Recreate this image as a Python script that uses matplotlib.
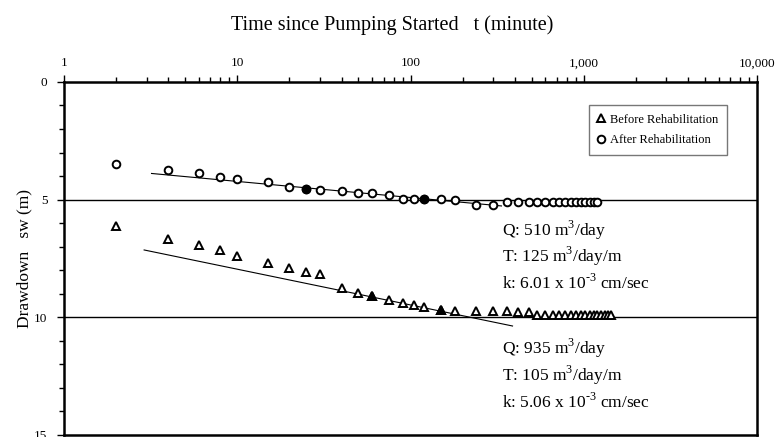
import matplotlib
matplotlib.use("Agg")
import matplotlib.pyplot as plt
from matplotlib.ticker import LogLocator, FuncFormatter, NullFormatter, MultipleLocator
from matplotlib.lines import Line2D

plt.rcParams["font.family"] = ["Liberation Serif", "DejaVu Serif"]
plt.rcParams["mathtext.fontset"] = "custom"
plt.rcParams["mathtext.rm"] = "Liberation Serif"

# time since pumping started (minute)
t_after = [2, 4, 6, 8, 10, 15, 20, 25, 30, 40, 50, 60, 75, 90, 105, 120, 150, 180,
           240, 300, 360, 420, 480, 540, 600, 660, 720, 780, 840, 900, 960, 1020,
           1080, 1140, 1200]
s_after = [3.5, 3.74, 3.88, 4.04, 4.13, 4.27, 4.46, 4.53, 4.59, 4.65, 4.7, 4.74, 4.8,
           4.97, 4.97, 4.97, 4.98, 5.02, 5.22, 5.22, 5.1, 5.1, 5.1, 5.1, 5.12, 5.12,
           5.12, 5.12, 5.1, 5.12, 5.12, 5.1, 5.1, 5.1, 5.1]

t_before = [2, 4, 6, 8, 10, 15, 20, 25, 30, 40, 50, 60, 75, 90, 105, 120, 150, 180,
            240, 300, 360, 420, 480, 540, 600, 660, 720, 780, 840, 900, 960, 1020,
            1080, 1140, 1200, 1260, 1320, 1380, 1440]
s_before = [6.12, 6.66, 6.92, 7.14, 7.38, 7.68, 7.9, 8.06, 8.16, 8.76, 8.95, 9.1, 9.26,
            9.38, 9.46, 9.55, 9.7, 9.72, 9.72, 9.74, 9.74, 9.76, 9.78, 9.9, 9.9, 9.92,
            9.92, 9.92, 9.92, 9.92, 9.92, 9.92, 9.92, 9.92, 9.92, 9.92, 9.92, 9.92, 9.92]

# points used for the straight-line fits (filled markers)
t_after_fit_pts = [25, 120]
t_before_fit_pts = [60, 150]

# fitted straight lines (end points)
t_after_line = [3.2, 335]
s_after_line = [3.89, 5.27]
t_before_line = [2.9, 388]
s_before_line = [7.14, 10.37]

after_txt = ["Q: 510 m$^3$/day", "T: 125 m$^3$/day/m", r"k: 6.01 x 10$^{\text{-3}}$ cm/sec"]
before_txt = ["Q: 935 m$^3$/day", "T: 105 m$^3$/day/m", r"k: 5.06 x 10$^{\text{-3}}$ cm/sec"]

fig = plt.figure(figsize=(7.75, 4.37), dpi=100)
ax = fig.add_axes([0.0826, 0.0046, 0.8942, 0.808])

ax.axhline(5, color="black", lw=1.0, zorder=1)
ax.axhline(10, color="black", lw=1.0, zorder=1)

ax.plot(t_after_line, s_after_line, color="black", lw=0.8, zorder=2)
ax.plot(t_before_line, s_before_line, color="black", lw=0.8, zorder=2)

ax.plot(t_before, s_before, ls="none", marker="^", ms=6, mfc="white", mec="black",
        mew=1.4, zorder=3)
ax.plot(t_after, s_after, ls="none", marker="o", ms=5.5, mfc="white", mec="black",
        mew=1.4, zorder=3)

fb = [s_before[t_before.index(t)] for t in t_before_fit_pts]
fa = [s_after[t_after.index(t)] for t in t_after_fit_pts]
ax.plot(t_before_fit_pts, fb, ls="none", marker="^", ms=6, mfc="black", mec="black",
        mew=1.4, zorder=4)
ax.plot(t_after_fit_pts, fa, ls="none", marker="o", ms=5.5, mfc="black", mec="black",
        mew=1.4, zorder=4)

for i, s in enumerate(after_txt):
    ax.text(336, 6.29 + i * 1.13, s, fontsize=12.5, va="center", ha="left")
for i, s in enumerate(before_txt):
    ax.text(336, 11.3 + i * 1.15, s, fontsize=12.5, va="center", ha="left")

ax.set_xscale("log")
ax.set_xlim(1, 10000)
ax.set_ylim(15, 0)

ax.xaxis.tick_top()
ax.xaxis.set_label_position("top")
ax.xaxis.set_major_locator(LogLocator(base=10))
ax.xaxis.set_minor_locator(LogLocator(base=10, subs=range(2, 10)))
ax.xaxis.set_major_formatter(FuncFormatter(lambda v, p: f"{v:,.0f}"))
ax.xaxis.set_minor_formatter(NullFormatter())
ax.yaxis.set_major_locator(MultipleLocator(5))
ax.yaxis.set_minor_locator(MultipleLocator(1))

ax.tick_params(axis="both", which="both", direction="out", labelsize=9.5, width=1.0)
ax.tick_params(axis="x", which="major", length=5, pad=4)
ax.tick_params(axis="x", which="minor", length=3.5)
ax.tick_params(axis="y", which="major", length=5, pad=7)
ax.tick_params(axis="y", which="minor", length=3.5)

for sp in ax.spines.values():
    sp.set_linewidth(1.8)

ax.set_xlabel("Time since Pumping Started   t (minute)", fontsize=14.5, labelpad=20)
ax.xaxis.label.set_x(0.473)
ax.set_ylabel("Drawdown   sw (m)", fontsize=12.5)
ax.yaxis.set_label_coords(-0.045, 0.5)

handles = [
    Line2D([], [], ls="none", marker="^", ms=6, mfc="white", mec="black", mew=1.4),
    Line2D([], [], ls="none", marker="o", ms=5.5, mfc="white", mec="black", mew=1.4),
]
leg = ax.legend(handles, ["Before Rehabilitation", "After Rehabilitation"],
                loc="upper right", bbox_to_anchor=(0.957, 0.935), fontsize=9,
                frameon=True, fancybox=False, handlelength=0.6, handletextpad=0.4,
                borderpad=0.7, labelspacing=0.7, borderaxespad=0)
leg.get_frame().set_edgecolor("#555555")
leg.get_frame().set_linewidth(1.0)

fig.savefig("out.png", dpi=100)
